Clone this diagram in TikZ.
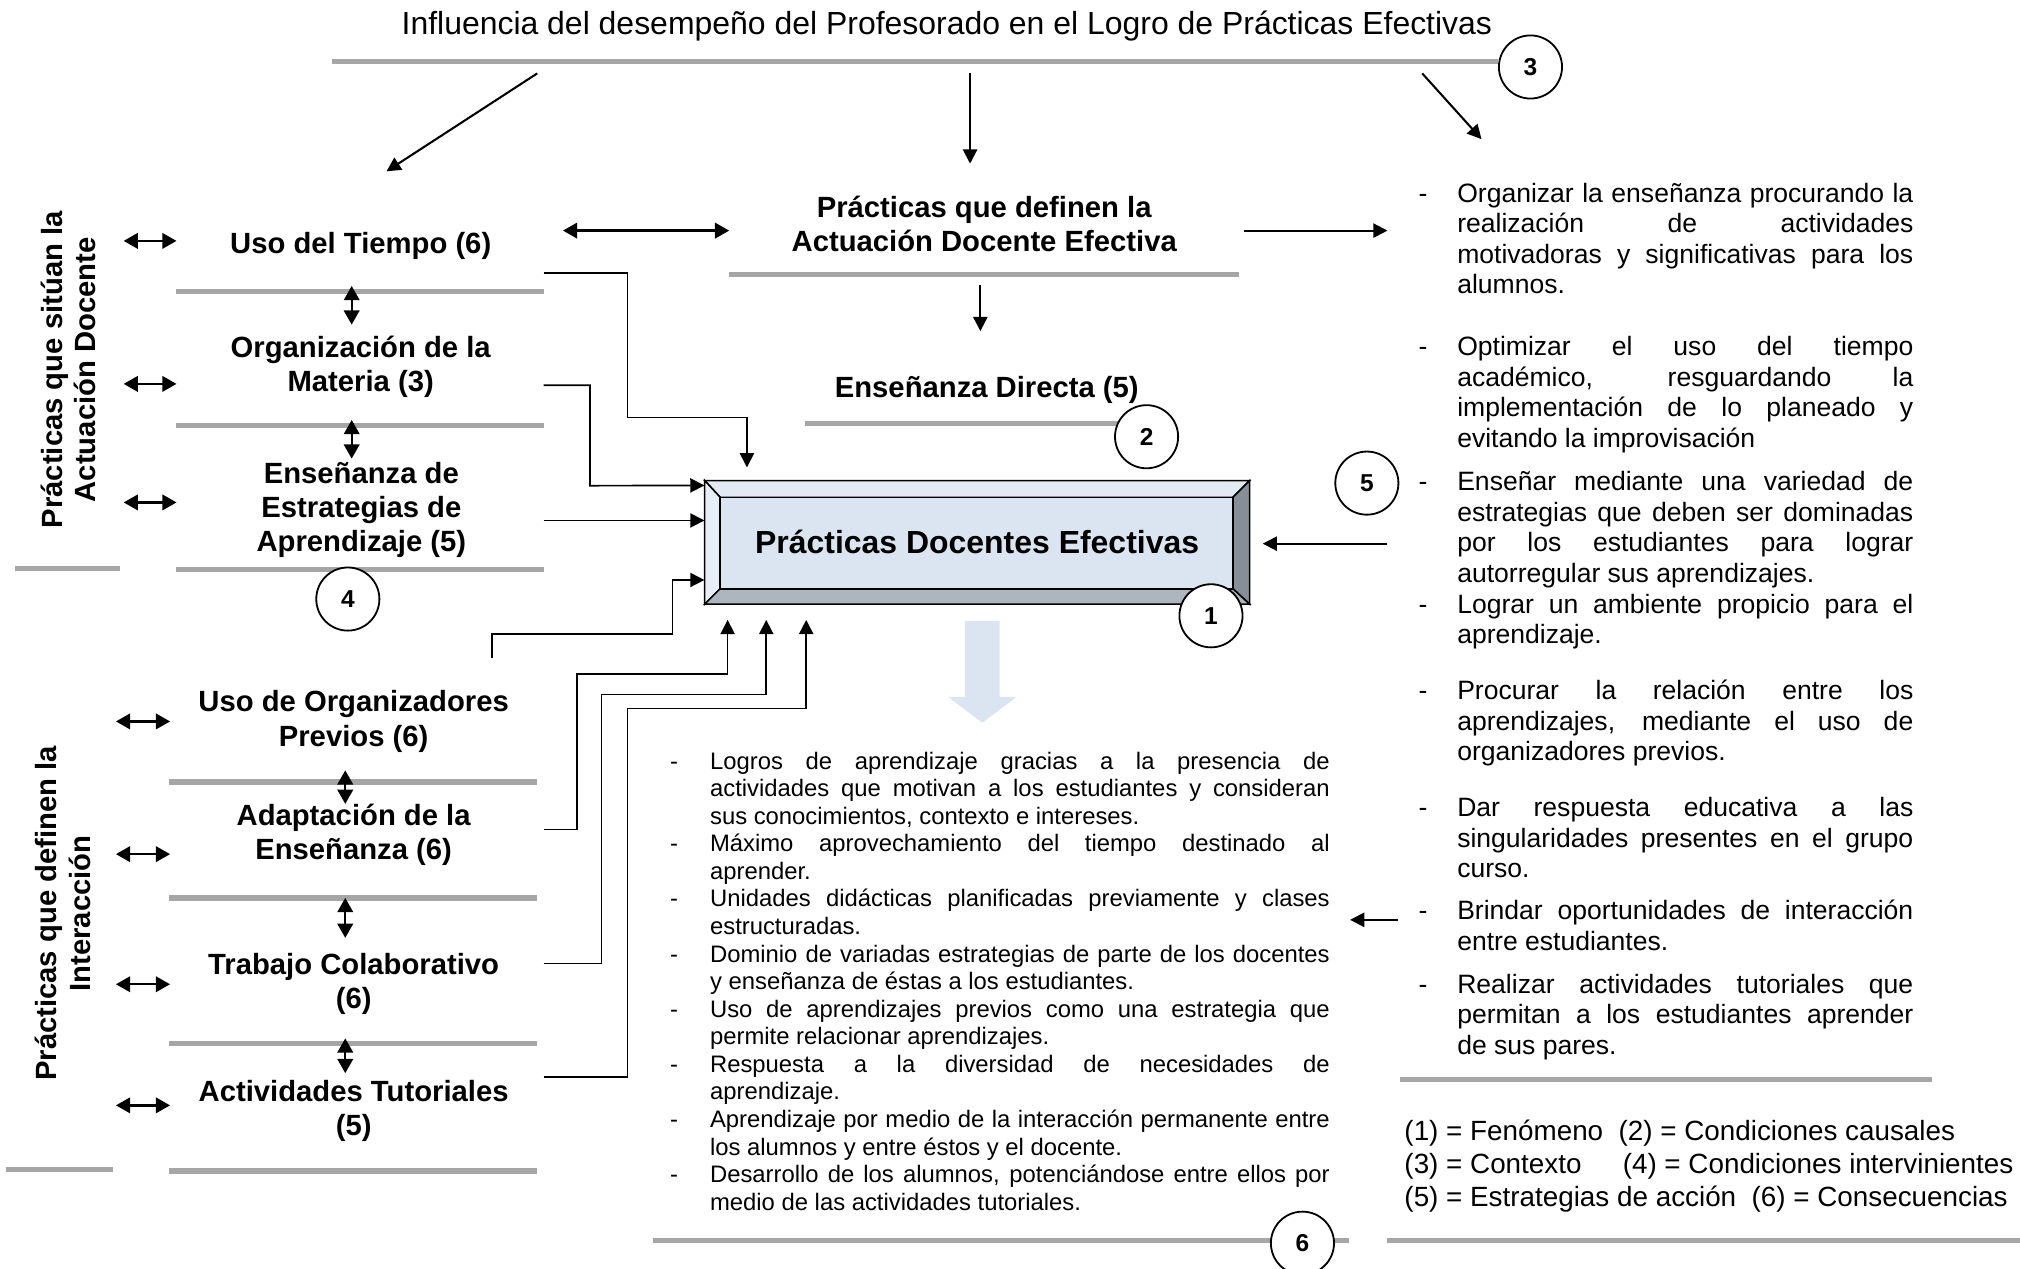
\documentclass[tikz,border=0pt]{standalone}
\usepackage{fontspec}
\setmainfont{Liberation Sans}
\usepackage{xcolor}
\usetikzlibrary{arrows.meta}
\usetikzlibrary{shapes.geometric}

\definecolor{grisl}{HTML}{A6A6A6}
\definecolor{azulc}{HTML}{DBE5F1}
\definecolor{bisup}{HTML}{E3EAF4}
\definecolor{bisizq}{HTML}{E8EEF7}
\definecolor{bisder}{HTML}{878E97}
\definecolor{bisinf}{HTML}{ADB5BF}

\newcommand{\itemR}[1]{\noindent\hangindent=30pt\hangafter=1\makebox[30pt][l]{-}#1\par}
\newcommand{\itemB}[1]{\noindent\hangindent=31pt\hangafter=1\makebox[31pt][l]{-}#1\par}

\tikzset{
  titulo/.style={inner sep=0pt, font=\fontsize{24.8}{29}\selectfont},
  etiq/.style={inner sep=0pt, align=center, font=\bfseries\fontsize{22.7}{26.5}\selectfont},
  rotulo/.style={inner sep=0pt, align=center, rotate=90, font=\bfseries\fontsize{22.7}{26}\selectfont},
  num/.style={circle, draw, line width=1.4pt, fill=white, minimum size=49pt, inner sep=0pt, font=\bfseries\fontsize{19}{19}\selectfont},
  gris/.style={draw=grisl, line width=4pt},
  flecha/.style={line width=1.6pt, -{Triangle[length=11pt,width=11pt]}},
  dflecha/.style={line width=1.8pt, {Triangle[length=11pt,width=12pt]}-{Triangle[length=11pt,width=12pt]}},
  con/.style={line width=1.3pt, -{Triangle[length=11pt,width=11pt]}},
  vinR/.style={anchor=base west, inner sep=0pt, text width=384pt, align=justify, font=\fontsize{20.6}{23.7}\selectfont},
  vinB/.style={anchor=base west, inner sep=0pt, text width=512pt, align=justify, font=\fontsize{18.5}{21.4}\selectfont},
}

\begin{document}
\begin{tikzpicture}[x=1pt,y=-1pt]
  \useasboundingbox (0,0) rectangle (1568,985);

  % Contexto
  \node[titulo] (titulo) at (735,20) {Influencia del desempeño del Profesorado en el Logro de Prácticas Efectivas};
  \draw[gris] (258,48) -- (1163,48);
  \node[num] (n3) at (1188,52) {3};
  \coordinate (a1) at (417,57);
  \coordinate (b1) at (300,133);
  \coordinate (a2) at (753,57);
  \coordinate (b2) at (753,127);
  \coordinate (a3) at (1104,57);
  \coordinate (b3) at (1150,108);
  \draw[flecha] (a1) -- (b1);
  \draw[flecha] (a2) -- (b2);
  \draw[flecha] (a3) -- (b3);

  % Condiciones causales
  \node[etiq] (defin) at (764,174) {Prácticas que definen la\\Actuación Docente Efectiva};
  \draw[gris] (566,213) -- (962,213);
  \coordinate (d1) at (437,179);
  \coordinate (d2) at (566,179);
  \draw[dflecha] (d1) -- (d2);
  \coordinate (d3) at (966,179);
  \coordinate (d4) at (1077,179);
  \draw[flecha] (d3) -- (d4);
  \coordinate (d5) at (761,221);
  \coordinate (d6) at (761,257);
  \draw[flecha] (d5) -- (d6);
  \node[etiq] (directa) at (766,303) {Enseñanza Directa (5)};
  \draw[gris] (625,329) -- (880,329);
  \node[num] (n2) at (890,339) {2};

  % Fenomeno
  \draw[line width=1.2pt, fill=bisup] (547,373) -- (970,373) -- (957,386) -- (559,386) -- cycle;
  \draw[line width=1.2pt, fill=bisizq] (547,373) -- (559,386) -- (559,457) -- (547,469) -- cycle;
  \draw[line width=1.2pt, fill=bisder] (970,373) -- (970,469) -- (957,457) -- (957,386) -- cycle;
  \draw[line width=1.2pt, fill=bisinf] (547,469) -- (970,469) -- (957,457) -- (559,457) -- cycle;
  \draw[line width=1.2pt, fill=azulc] (559,386) rectangle (957,457);
  \node[minimum width=423pt, minimum height=96pt, inner sep=0pt,
        font=\bfseries\fontsize{24.8}{29}\selectfont] (pde) at (758.5,421) {Prácticas Docentes Efectivas};
  \node[num] (n1) at (940,478) {1};

  % Condiciones intervinientes
  \node[rotulo] (situan) at (53,287) {Prácticas que sitúan la\\Actuación Docente};
  \draw[gris] (12,441) -- (93,441);
  \node[etiq] (tiempo) at (280,191) {Uso del Tiempo (6)};
  \draw[gris] (137,226) -- (422,226);
  \node[etiq] (materia) at (280,285) {Organización de la\\Materia (3)};
  \draw[gris] (137,330) -- (422,330);
  \node[etiq] (estrat) at (280.5,396) {Enseñanza de\\Estrategias de\\Aprendizaje (5)};
  \draw[gris] (137,442) -- (422,442);
  \node[num] (n4) at (270,465) {4};
  \draw[dflecha] (96,187) -- (137,187);
  \draw[dflecha] (96,298) -- (137,298);
  \draw[dflecha] (96,390) -- (137,390);
  \draw[dflecha] (273,222) -- (273,252);
  \draw[dflecha] (273,326) -- (273,356);

  \node[rotulo] (interac) at (49,709) {Prácticas que definen la\\Interacción};
  \draw[gris] (5,908) -- (88,908);
  \node[etiq] (organiz) at (274.5,560) {Uso de Organizadores\\Previos (6)};
  \draw[gris] (131,607) -- (417,607);
  \node[etiq] (adapta) at (274.5,648) {Adaptación de la\\Enseñanza (6)};
  \draw[gris] (131,697) -- (417,697);
  \node[etiq] (colab) at (274.5,763.5) {Trabajo Colaborativo\\(6)};
  \draw[gris] (131,810) -- (417,810);
  \node[etiq] (tutor) at (274.5,862.5) {Actividades Tutoriales\\(5)};
  \draw[gris] (131,909) -- (417,909);
  \draw[dflecha] (90,560) -- (132,560);
  \draw[dflecha] (90,663) -- (132,663);
  \draw[dflecha] (90,764) -- (132,764);
  \draw[dflecha] (90,858) -- (132,858);
  \draw[dflecha] (268,598) -- (268,624);
  \draw[dflecha] (268,697) -- (268,728);
  \draw[dflecha] (268,806) -- (268,833);

  % Conectores hacia el fenomeno
  \coordinate (sT) at (422,212);
  \coordinate (sM) at (422,299);
  \coordinate (sE) at (422,404);
  \coordinate (sO) at (382,511);
  \coordinate (sA) at (422,644);
  \coordinate (sC) at (422,748);
  \coordinate (sU) at (422,836);
  \draw[con, shorten >=10pt] (sT) -| (487,324) -| ([xshift=33pt]pde.north west);
  \draw[con] (sM) -| (458,377) -- ([yshift=-4pt]pde.north west);
  \draw[con] (sE) -- (sE -| pde.west);
  \draw[con] (sO) |- (522,492) |- ([yshift=19pt]pde.south west);
  \draw[con, shorten >=12pt] (sA) -| (448,523) -| ([xshift=18pt]pde.south west);
  \draw[con, shorten >=12pt] (sC) -| (467,539) -| ([xshift=48pt]pde.south west);
  \draw[con, shorten >=12pt] (sU) -| (487,550) -| ([xshift=79pt]pde.south west);

  % Estrategias de accion
  \node[num] (n5) at (1061,375) {5};
  \coordinate (e5) at (1077,422);
  \draw[flecha, shorten >=10pt] (e5) -- (e5 -| pde.east);
  \node[vinR] (r1) at (1101,157) {\itemR{Organizar la enseñanza procurando la\linebreak realización de actividades\linebreak motivadoras y significativas para los\linebreak alumnos.}};
  \node[vinR] (r2) at (1101,276) {\itemR{Optimizar el uso del tiempo\linebreak académico, resguardando la\linebreak implementación de lo planeado y\linebreak evitando la improvisación}};
  \node[vinR] (r3) at (1101,381) {\itemR{Enseñar mediante una variedad de\linebreak estrategias que deben ser dominadas\linebreak por los estudiantes para lograr\linebreak autorregular sus aprendizajes.}};
  \node[vinR] (r4) at (1101,476) {\itemR{Lograr un ambiente propicio para el\linebreak aprendizaje.}};
  \node[vinR] (r5) at (1101,543) {\itemR{Procurar la relación entre los\linebreak aprendizajes, mediante el uso de\linebreak organizadores previos.}};
  \node[vinR] (r6) at (1101,634) {\itemR{Dar respuesta educativa a las\linebreak singularidades presentes en el grupo\linebreak curso.}};
  \node[vinR] (r7) at (1101,714) {\itemR{Brindar oportunidades de interacción\linebreak entre estudiantes.}};
  \node[vinR] (r8) at (1101,771) {\itemR{Realizar actividades tutoriales que\linebreak permitan a los estudiantes aprender\linebreak de sus pares.}};
  \coordinate (e7) at (1085,714);
  \coordinate (f7) at (1048,714);
  \draw[flecha] (e7) -- (f7);
  \draw[gris] (1087,838) -- (1500,838);

  % Consecuencias
  \fill[azulc] (749,482) -- (776,482) -- (776,541) -- (789,541) -- (762.5,561)
    -- (736,541) -- (749,541) -- cycle;
  \node[vinB] (conse) at (520,597) {%
    \itemB{Logros de aprendizaje gracias a la presencia de\linebreak actividades que motivan a los estudiantes y consideran\linebreak sus conocimientos, contexto e intereses.}%
    \itemB{Máximo aprovechamiento del tiempo destinado al\linebreak aprender.}%
    \itemB{Unidades didácticas planificadas previamente y clases\linebreak estructuradas.}%
    \itemB{Dominio de variadas estrategias de parte de los docentes\linebreak y enseñanza de éstas a los estudiantes.}%
    \itemB{Uso de aprendizajes previos como una estrategia que\linebreak permite relacionar aprendizajes.}%
    \itemB{Respuesta a la diversidad de necesidades de\linebreak aprendizaje.}%
    \itemB{Aprendizaje por medio de la interacción permanente entre\linebreak los alumnos y entre éstos y el docente.}%
    \itemB{Desarrollo de los alumnos, potenciándose entre ellos por\linebreak medio de las actividades tutoriales.}};
  \draw[gris] (507,963) -- (1047,963);
  \node[num] (n6) at (1011,965) {6};

  % Leyenda
  \node[anchor=base west, inner sep=0pt, align=left, font=\fontsize{21.6}{25.5}\selectfont] (leyenda) at (1090,936.5)
    {(1) = Fenómeno\ \ (2) = Condiciones causales\\
     (3) = Contexto\hspace{32pt}(4) = Condiciones intervinientes\\
     (5) = Estrategias de acción\ \ (6) = Consecuencias};
  \draw[gris] (1077,963) -- (1568,963);
\end{tikzpicture}
\end{document}
